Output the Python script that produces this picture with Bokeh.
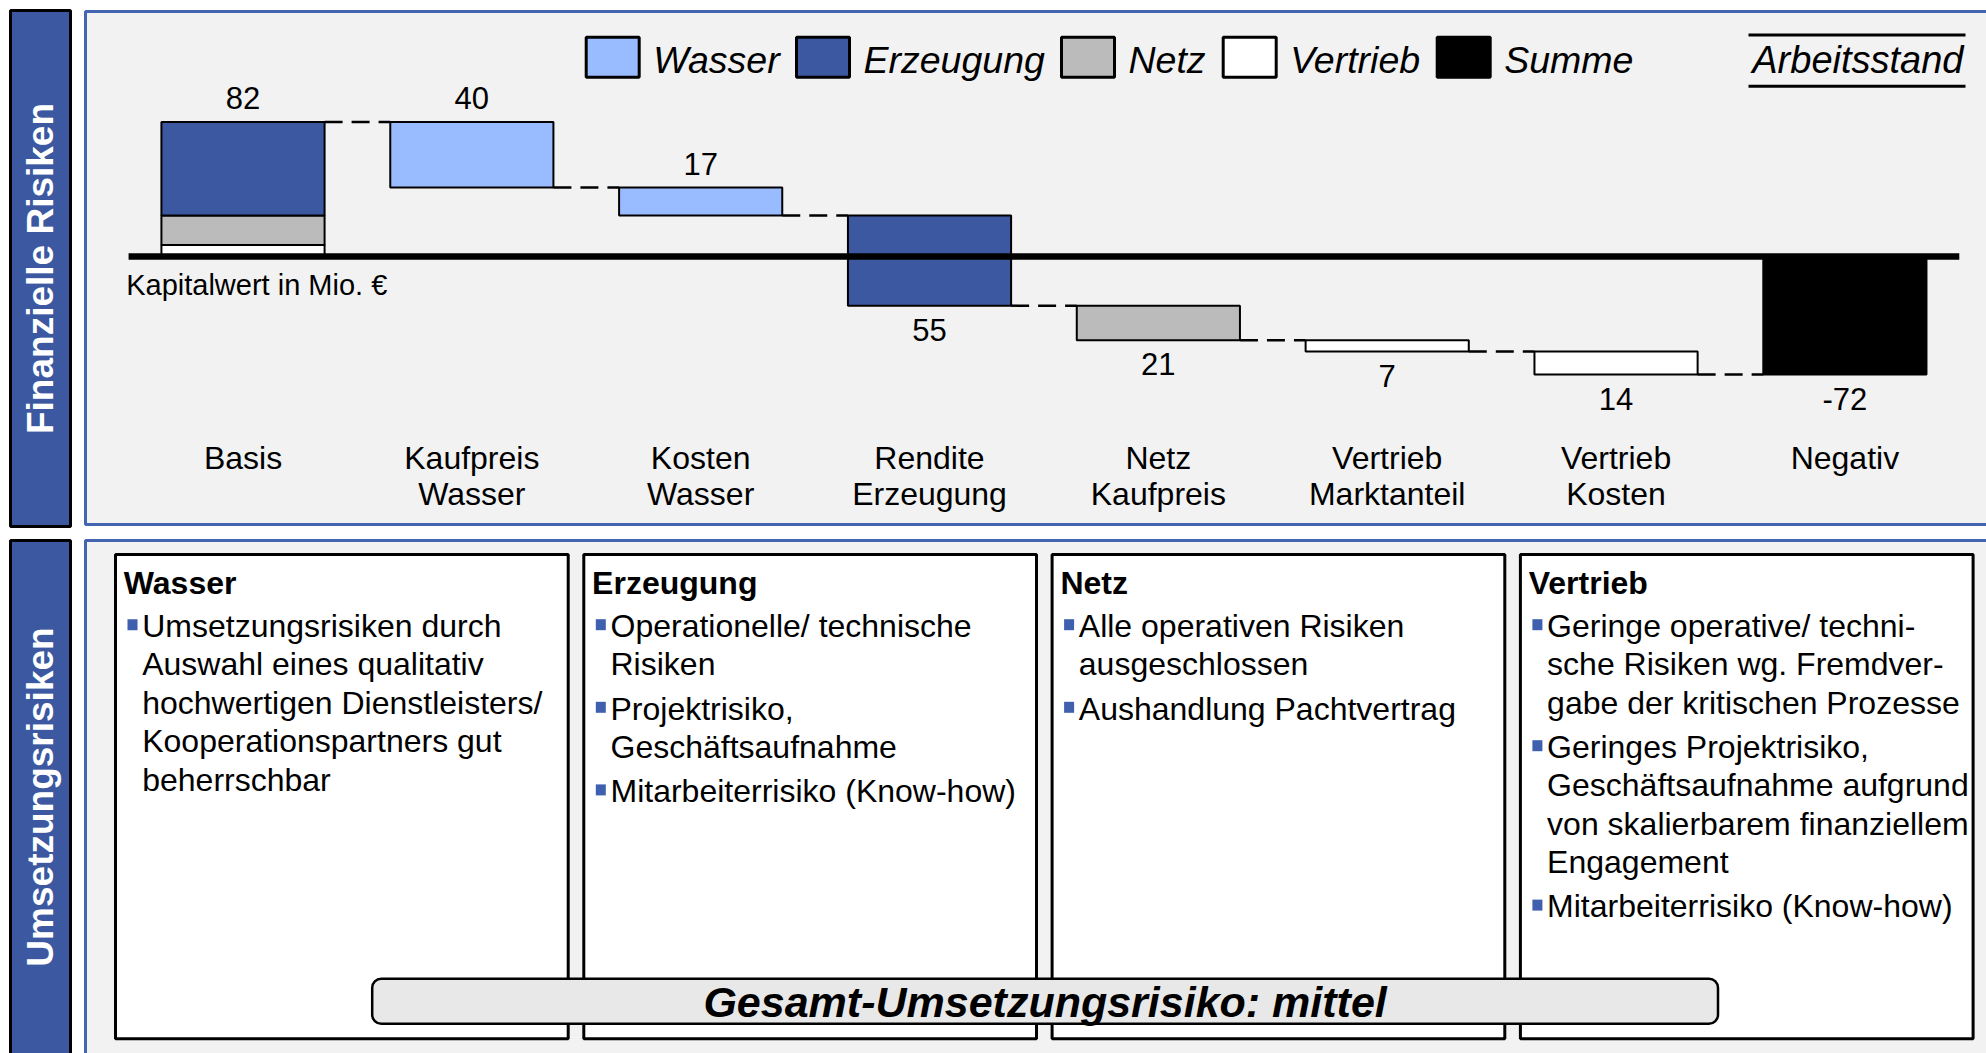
from bokeh.plotting import figure
from bokeh.models import Range1d
from bokeh.core.properties import value
from bokeh.embed import file_html
from bokeh.resources import INLINE

# ------------------------------------------------------------------ data
categories = ["Basis", "Kaufpreis\nWasser", "Kosten\nWasser", "Rendite\nErzeugung",
              "Netz\nKaufpreis", "Vertrieb\nMarktanteil", "Vertrieb\nKosten", "Negativ"]
basis_total = 82
basis_part_names = ["Vertrieb", "Netz", "Erzeugung"]      # bottom -> top
basis_part_values = [7, 18, 57]
step_changes = [-40, -17, -55, -21, -7, -14]
step_segments = ["Wasser", "Wasser", "Erzeugung", "Netz", "Vertrieb", "Vertrieb"]
total_segment = "Summe"

legend_labels = ["Wasser", "Erzeugung", "Netz", "Vertrieb", "Summe"]
unit_label = "Kapitalwert in Mio. €"
status_label = "Arbeitsstand"
section_labels = ["Finanzielle Risiken", "Umsetzungsrisiken"]

box_titles = ["Wasser", "Erzeugung", "Netz", "Vertrieb"]
box_bullets = [
    [["Umsetzungsrisiken durch", "Auswahl eines qualitativ", "hochwertigen Dienstleisters/",
      "Kooperationspartners gut", "beherrschbar"]],
    [["Operationelle/ technische", "Risiken"], ["Projektrisiko,", "Geschäftsaufnahme"],
     ["Mitarbeiterrisiko (Know-how)"]],
    [["Alle operativen Risiken", "ausgeschlossen"], ["Aushandlung Pachtvertrag"]],
    [["Geringe operative/ techni-", "sche Risiken wg. Fremdver-", "gabe der kritischen Prozesse"],
     ["Geringes Projektrisiko,", "Geschäftsaufnahme aufgrund", "von skalierbarem finanziellem",
      "Engagement"],
     ["Mitarbeiterrisiko (Know-how)"]],
]
summary_label = "Gesamt-Umsetzungsrisiko: mittel"

# ------------------------------------------------------------------ styles
COLORS = {"Wasser": "#99BBFF", "Erzeugung": "#3B58A0", "Netz": "#BBBBBB",
          "Vertrieb": "#FFFFFF", "Summe": "#000000"}
BAND = "#3B58A0"
PANEL_BG = "#F2F2F2"
PANEL_LINE = "#4466B0"
FONT = value("Liberation Sans")
BL = 0.35          # baseline correction (fraction of font size)

W, H = 1986, 1053
PX0 = 242.5        # pixel x of first category centre
STEP = 228.84      # pixel distance between categories
ZERO_Y = 256.0     # pixel y of value 0
PX_PER_UNIT = 1.64
BAR_W = 0.713


def base(y, fs):
    return y - BL * fs


p = figure(width=W, height=H, x_range=Range1d(0, W), y_range=Range1d(H, 0),
           output_backend="svg", toolbar_location=None,
           x_axis_type=None, y_axis_type=None, min_border=0,
           outline_line_color=None, background_fill_color="white",
           border_fill_color="white")
p.grid.visible = False
p.extra_x_ranges = {"idx": Range1d(-PX0 / STEP, (W - PX0) / STEP)}
p.extra_y_ranges = {"val": Range1d((ZERO_Y - H) / PX_PER_UNIT, ZERO_Y / PX_PER_UNIT)}

# ------------------------------------------------------------------ panels
p.quad(left=[10, 10], right=[70, 70], top=[10, 540], bottom=[526, H + 10],
       fill_color=BAND, line_color="black", line_width=3)
p.quad(left=[85, 85], right=[W + 10, W + 10], top=[11, 540], bottom=[524, H + 10],
       fill_color=PANEL_BG, line_color=PANEL_LINE, line_width=3)
p.text(x=[40, 40], y=[268, 796.5], text=section_labels, angle=[1.5707963, 1.5707963],
       text_align="center", text_baseline="middle", text_color="white",
       text_font=FONT, text_font_style="bold", text_font_size="37px")

# ------------------------------------------------------------------ legend
leg_left = [585.7, 796, 1061, 1222.7, 1436.7]
p.quad(left=leg_left, right=[x + 53 for x in leg_left], top=[36.7] * 5, bottom=[76.7] * 5,
       fill_color=[COLORS[k] for k in legend_labels], line_color="black", line_width=3)
p.text(x=[x + 67 for x in leg_left], y=[base(72.3, 37.5)] * 5, text=legend_labels,
       text_align="left", text_baseline="alphabetic", text_color="black",
       text_font=FONT, text_font_style="italic", text_font_size="37.5px")
p.text(x=[1963], y=[base(72.5, 38)], text=[status_label], text_align="right",
       text_baseline="alphabetic", text_font=FONT, text_font_style="italic",
       text_font_size="38px", text_color="black")
p.segment(x0=[1748, 1748], x1=[1965, 1965], y0=[34.6, 85.7], y1=[34.6, 85.7],
          line_color="black", line_width=3)

# ------------------------------------------------------------------ waterfall
n = len(categories)
levels = [basis_total]
for c in step_changes:
    levels.append(levels[-1] + c)
final_total = levels[-1]

b_bottom, b_top = [], []
acc = 0
for v in basis_part_values:
    b_bottom.append(acc)
    acc += v
    b_top.append(acc)
p.vbar(x=[0] * len(basis_part_values), width=BAR_W, bottom=b_bottom, top=b_top,
       fill_color=[COLORS[k] for k in basis_part_names], line_color="black", line_width=2,
       x_range_name="idx", y_range_name="val")

sx = list(range(1, 1 + len(step_changes)))
s_top = [max(levels[i], levels[i + 1]) for i in range(len(step_changes))]
s_bot = [min(levels[i], levels[i + 1]) for i in range(len(step_changes))]
p.vbar(x=sx, width=BAR_W, bottom=s_bot, top=s_top,
       fill_color=[COLORS[k] for k in step_segments], line_color="black", line_width=2,
       x_range_name="idx", y_range_name="val")

p.vbar(x=[n - 1], width=BAR_W, bottom=[min(0, final_total)], top=[max(0, final_total)],
       fill_color=COLORS[total_segment], line_color="black", line_width=2,
       x_range_name="idx", y_range_name="val")

cx0 = [i + BAR_W / 2 for i in range(n - 1)]
cx1 = [i + 1 - BAR_W / 2 for i in range(n - 1)]
p.segment(x0=cx0, x1=cx1, y0=levels, y1=levels, line_color="black", line_width=2.5,
          line_dash="18 9", x_range_name="idx", y_range_name="val")

p.segment(x0=[-0.5], x1=[n - 0.5], y0=[0], y1=[0], line_color="black", line_width=6.5,
          x_range_name="idx", y_range_name="val")

VFS = 31
lab_x, lab_y, lab_t, lab_off = [0], [basis_total], [str(basis_total)], [-12.7]
for i, c in enumerate(step_changes):
    lab_x.append(i + 1)
    lab_t.append(str(abs(c)))
    if s_bot[i] >= 0:
        lab_y.append(s_top[i]); lab_off.append(-12.7)
    else:
        lab_y.append(s_bot[i]); lab_off.append(35)
lab_x.append(n - 1); lab_y.append(min(0, final_total)); lab_t.append(str(final_total)); lab_off.append(35)
for x, y, t, o in zip(lab_x, lab_y, lab_t, lab_off):
    p.text(x=[x], y=[y], text=[t], y_offset=o - BL * VFS, text_align="center",
           text_baseline="alphabetic", text_font=FONT, text_font_size=f"{VFS}px",
           text_color="black", x_range_name="idx", y_range_name="val")

CFS = 32
l1 = [c.split("\n")[0] for c in categories]
l2 = [c.split("\n")[1] if "\n" in c else "" for c in categories]
p.text(x=list(range(n)), y=[base(469, CFS)] * n, text=l1, text_align="center",
       text_baseline="alphabetic", text_font=FONT, text_font_size=f"{CFS}px",
       text_color="black", x_range_name="idx")
p.text(x=list(range(n)), y=[base(505, CFS)] * n, text=l2, text_align="center",
       text_baseline="alphabetic", text_font=FONT, text_font_size=f"{CFS}px",
       text_color="black", x_range_name="idx")

p.text(x=[125.7], y=[base(295, 29)], text=[unit_label], text_align="left",
       text_baseline="alphabetic", text_font=FONT, text_font_size="29px", text_color="black")

# ------------------------------------------------------------------ bottom boxes
BOX_X0, BOX_STEP, BOX_W = 115, 468.3, 452.7
BOX_TOP, BOX_BOT = 554, 1038.3
LINE0, LSTEP, PSTEP = 636.7, 38.4, 5.8
TFS = 32
bl = [BOX_X0 + k * BOX_STEP for k in range(len(box_titles))]
p.quad(left=bl, right=[x + BOX_W for x in bl], top=[BOX_TOP] * len(bl), bottom=[BOX_BOT] * len(bl),
       fill_color="white", line_color="black", line_width=3)
p.text(x=[x + 8.3 for x in bl], y=[base(593.3, 32)] * len(bl), text=box_titles, text_align="left",
       text_baseline="alphabetic", text_font=FONT, text_font_style="bold",
       text_font_size="32px", text_color="black")
tx, ty, tt, bxl, byt = [], [], [], [], []
for k, bullets in enumerate(box_bullets):
    li = 0
    for bi, lines in enumerate(bullets):
        y_first = LINE0 + li * LSTEP + bi * PSTEP
        bxl.append(bl[k] + 12)
        byt.append(y_first - 18)
        for line in lines:
            tx.append(bl[k] + 26.7)
            ty.append(base(LINE0 + li * LSTEP + bi * PSTEP, TFS))
            tt.append(line)
            li += 1
p.quad(left=bxl, right=[x + 10 for x in bxl], top=byt, bottom=[y + 11 for y in byt],
       fill_color="#3F5FAF", line_color=None)
p.text(x=tx, y=ty, text=tt, text_align="left", text_baseline="alphabetic",
       text_font=FONT, text_font_size=f"{TFS}px", text_color="black")

p.quad(left=[371.7], right=[1717.5], top=[978.3], bottom=[1023.3], fill_color="#E8E8E8",
       line_color="black", line_width=2.5, border_radius=9)
p.text(x=[(371.7 + 1717.5) / 2], y=[base(1016.7, 43)], text=[summary_label], text_align="center",
       text_baseline="alphabetic", text_font=FONT, text_font_style="bold italic",
       text_font_size="43px", text_color="black")

open("out.html", "w").write(file_html(p, INLINE))
